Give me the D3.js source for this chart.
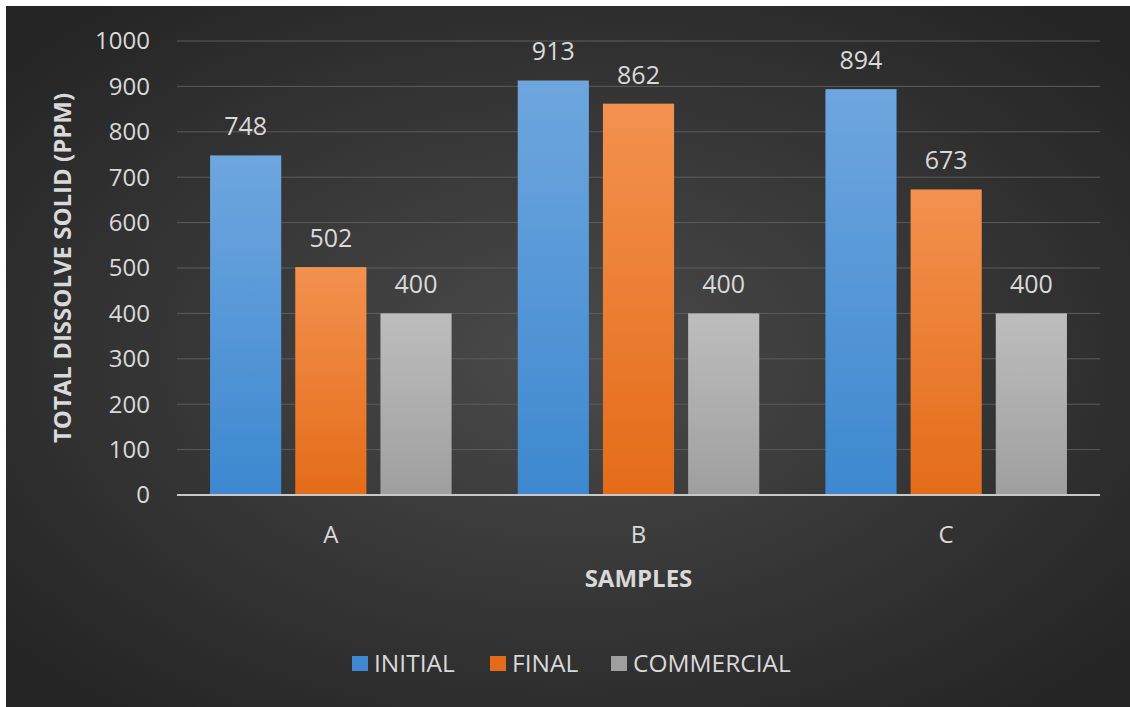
<!DOCTYPE html>
<html>
<head>
<meta charset="utf-8">
<script src="https://cdn.jsdelivr.net/npm/d3@7"></script>
<style>
  body { margin: 0; background: #fff; }
  svg text { font-family: "Open Sans", "Liberation Sans", sans-serif; }
</style>
</head>
<body>
<svg></svg>
<script>
const samples = ['A', 'B', 'C'];
const seriesNames = ['INITIAL', 'FINAL', 'COMMERCIAL'];
const initialValues = [748, 913, 894];
const finalValues = [502, 862, 673];
const commercialValues = [400, 400, 400];
const yTicks = [0, 100, 200, 300, 400, 500, 600, 700, 800, 900, 1000];

function drawChart() {
  const width = 1130;
  const height = 707;
  const margin = { top: 41, right: 30, bottom: 212, left: 177 };

  const svg = d3.select('svg').attr('width', width).attr('height', height);
  const defs = svg.append('defs');

  const bg = defs
    .append('radialGradient')
    .attr('id', 'bg')
    .attr('cx', '50%')
    .attr('cy', '50%')
    .attr('r', '65%');
  bg.append('stop').attr('offset', '0%').attr('stop-color', '#4a4a4a');
  bg.append('stop').attr('offset', '100%').attr('stop-color', '#252525');

  const colors = {
    INITIAL: ['#6ea6de', '#3d88d0'],
    FINAL: ['#f3914f', '#e46c18'],
    COMMERCIAL: ['#bdbdbd', '#9f9f9f']
  };
  seriesNames.forEach((name) => {
    const grad = defs
      .append('linearGradient')
      .attr('id', 'g-' + name)
      .attr('x1', 0)
      .attr('y1', 0)
      .attr('x2', 0)
      .attr('y2', 1);
    grad.append('stop').attr('offset', '0%').attr('stop-color', colors[name][0]);
    grad.append('stop').attr('offset', '100%').attr('stop-color', colors[name][1]);
  });

  svg
    .append('rect')
    .attr('x', 6)
    .attr('y', 6)
    .attr('width', width - 6)
    .attr('height', height - 6)
    .attr('fill', 'url(#bg)');

  const x0 = d3
    .scaleBand()
    .domain(samples)
    .range([margin.left, width - margin.right])
    .paddingInner(0.215)
    .paddingOuter(0.1075);

  const x1 = d3
    .scaleBand()
    .domain(seriesNames)
    .range([0, x0.bandwidth()])
    .paddingInner(0.165);

  const y = d3
    .scaleLinear()
    .domain([0, 1000])
    .range([height - margin.bottom, margin.top]);

  // gridlines
  svg
    .append('g')
    .selectAll('line')
    .data(yTicks.slice(1))
    .join('line')
    .attr('x1', margin.left)
    .attr('x2', width - margin.right)
    .attr('y1', (d) => y(d))
    .attr('y2', (d) => y(d))
    .attr('stroke', '#5c5c5c')
    .attr('stroke-width', 1);

  // y tick labels
  svg
    .append('g')
    .selectAll('text')
    .data(yTicks)
    .join('text')
    .attr('x', 150)
    .attr('y', (d) => y(d))
    .attr('dy', '0.35em')
    .attr('text-anchor', 'end')
    .attr('fill', '#d9d9d9')
    .style('font-size', '24px')
    .text((d) => d);

  const series = [
    { name: 'INITIAL', values: initialValues },
    { name: 'FINAL', values: finalValues },
    { name: 'COMMERCIAL', values: commercialValues }
  ];

  const rows = [];
  series.forEach((s) => {
    s.values.forEach((v, i) => {
      rows.push({ sample: samples[i], name: s.name, value: v });
    });
  });

  const bars = svg.append('g');
  bars
    .selectAll('rect')
    .data(rows)
    .join('rect')
    .attr('x', (d) => x0(d.sample) + x1(d.name))
    .attr('y', (d) => y(d.value))
    .attr('width', x1.bandwidth())
    .attr('height', (d) => y(0) - y(d.value))
    .attr('fill', (d) => 'url(#g-' + d.name + ')');

  bars
    .selectAll('text')
    .data(rows)
    .join('text')
    .attr('x', (d) => x0(d.sample) + x1(d.name) + x1.bandwidth() / 2)
    .attr('y', (d) => y(d.value) - 20)
    .attr('text-anchor', 'middle')
    .attr('fill', '#d9d9d9')
    .style('font-size', '25px')
    .text((d) => d.value);

  // baseline
  svg
    .append('line')
    .attr('x1', margin.left)
    .attr('x2', width - margin.right)
    .attr('y1', y(0))
    .attr('y2', y(0))
    .attr('stroke', '#c8c8c8')
    .attr('stroke-width', 2);

  // category labels
  svg
    .append('g')
    .selectAll('text')
    .data(samples)
    .join('text')
    .attr('x', (d) => x0(d) + x0.bandwidth() / 2)
    .attr('y', 535)
    .attr('dy', '0.35em')
    .attr('text-anchor', 'middle')
    .attr('fill', '#d9d9d9')
    .style('font-size', '24px')
    .text((d) => d);

  svg
    .append('text')
    .attr('x', (margin.left + width - margin.right) / 2)
    .attr('y', 579)
    .attr('dy', '0.35em')
    .attr('text-anchor', 'middle')
    .attr('fill', '#d9d9d9')
    .style('font-size', '24px')
    .style('font-weight', 'bold')
    .text('SAMPLES');

  svg
    .append('text')
    .attr('transform', 'translate(63,' + y(500) + ') rotate(-90)')
    .attr('dy', '0.35em')
    .attr('text-anchor', 'middle')
    .attr('fill', '#d9d9d9')
    .style('font-size', '24px')
    .style('font-weight', 'bold')
    .text('TOTAL DISSOLVE SOLID (PPM)');

  // legend
  const legendX = [352, 490, 611];
  const legend = svg
    .append('g')
    .selectAll('g')
    .data(seriesNames)
    .join('g')
    .attr('transform', (d, i) => 'translate(' + legendX[i] + ',663)');
  legend
    .append('rect')
    .attr('x', 0)
    .attr('y', -7)
    .attr('width', 16)
    .attr('height', 15)
    .attr('fill', (d) => colors[d][1]);
  legend
    .append('text')
    .attr('x', 22)
    .attr('y', 0)
    .attr('dy', '0.35em')
    .attr('fill', '#d9d9d9')
    .style('font-size', '24.5px')
    .text((d) => d);
}

drawChart();
</script>
</body>
</html>
